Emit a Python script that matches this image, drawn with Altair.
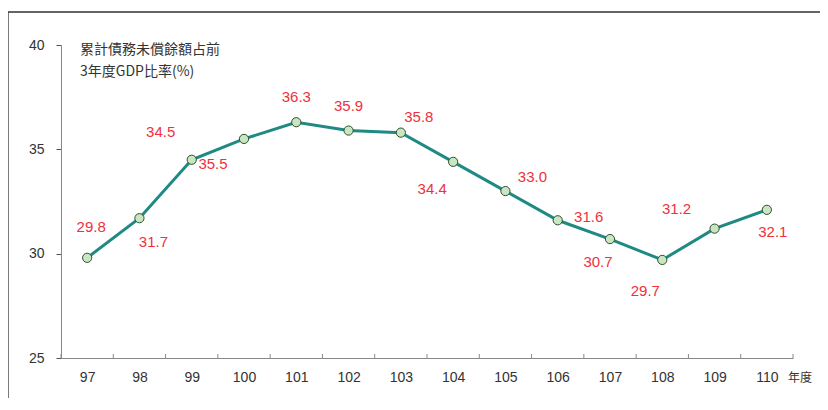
import altair as alt
import pandas as pd

years = [97, 98, 99, 100, 101, 102, 103, 104, 105, 106, 107, 108, 109, 110]
values = [29.8, 31.7, 34.5, 35.5, 36.3, 35.9, 35.8, 34.4, 33.0, 31.6, 30.7, 29.7, 31.2, 32.1]
label_dx = [4, 14, -31, -31, 0, 0, 18, -21, 27, 31, -12, -17, -38, 6]
label_dy = [-31, 24, -28, 25, -25, -25, -16, 27, -14, -3, 23, 31, -20, 22]
y_ticks = [25, 30, 35, 40]
title_lines = ["累計債務未償餘額占前", "3年度GDP比率(%)"]
x_unit = "年度"

FONT = "Liberation Sans, Arial, Noto Sans CJK TC, sans-serif"
CJK = "Noto Sans CJK TC, Liberation Sans, sans-serif"

df = pd.DataFrame({"year": years, "value": values, "label": [f"{v:.1f}" for v in values]})
bounds = pd.DataFrame({"b": [y - 0.5 for y in years] + [years[-1] + 0.5]})

xscale = alt.Scale(domain=[years[0] - 0.5, years[-1] + 0.5], nice=False, zero=False)
yscale = alt.Scale(domain=[25, 40], nice=False, zero=False)

xax = alt.Axis(values=years, format="d", ticks=False, grid=False, title=None,
               domainColor="#888888", labelFont=FONT, labelFontSize=14,
               labelColor="#333333", labelPadding=12, labelFlush=False)
yax = alt.Axis(values=y_ticks, grid=False, title=None, domainColor="#888888",
               tickColor="#555555", tickSize=5, labelFont=FONT, labelFontSize=14,
               labelColor="#333333", labelPadding=12)

base = alt.Chart(df)

line = base.mark_line(color="#1f8a84", strokeWidth=3).encode(
    x=alt.X("year:Q", scale=xscale, axis=xax),
    y=alt.Y("value:Q", scale=yscale, axis=yax),
)
pts = base.mark_point(filled=True, fill="#c8e6c2", stroke="#2f4f2f", strokeWidth=1,
                      size=85, opacity=1).encode(
    x=alt.X("year:Q", scale=xscale),
    y=alt.Y("value:Q", scale=yscale),
)

labels = []
for yr, dx, dy in zip(years, label_dx, label_dy):
    labels.append(
        base.transform_filter(alt.datum.year == yr).mark_text(
            dx=dx, dy=dy, font=FONT, fontSize=15, color="#f0303c",
            align="center", baseline="middle"
        ).encode(x=alt.X("year:Q", scale=xscale), y=alt.Y("value:Q", scale=yscale), text="label:N")
    )

ticks = alt.Chart(bounds).mark_rule(color="#888888", strokeWidth=1).encode(
    x=alt.X("b:Q", scale=xscale),
    y=alt.value(309), y2=alt.value(313),
)

title = alt.Chart(pd.DataFrame({"t": [title_lines]})).mark_text(
    align="left", baseline="middle", font=CJK, fontSize=14, color="#333333", lineHeight=22
).encode(x=alt.value(19), y=alt.value(5), text="t")

unit = alt.Chart(pd.DataFrame({"t": [x_unit]})).mark_text(
    align="left", baseline="middle", font=CJK, fontSize=12, color="#333333"
).encode(x=alt.value(727), y=alt.value(333), text="t:N")

frame = alt.Chart(pd.DataFrame({"a": [0]})).mark_rect(
    fill=None, stroke="#333333", strokeWidth=1.3, clip=False
).encode(x=alt.value(-53), x2=alt.value(790), y=alt.value(-33), y2=alt.value(400))

chart = alt.layer(frame, ticks, line, pts, *labels, title, unit).properties(
    width=732, height=313,
    autosize=alt.AutoSizeParams(type="none"),
    padding={"left": 53, "top": 37, "right": 27, "bottom": 40},
).configure_view(stroke=None)

chart.save("out.html", embed_options={"renderer": "svg", "actions": False})
